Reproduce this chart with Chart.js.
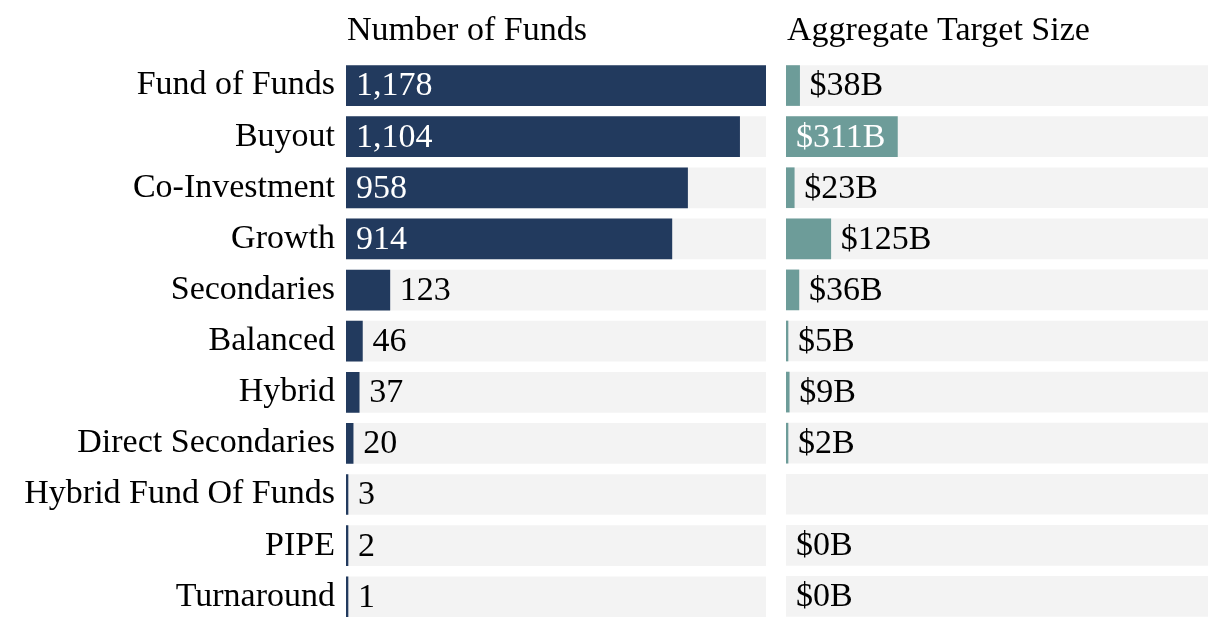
<!DOCTYPE html>
<html>
<head>
<meta charset="utf-8">
<script src="https://cdn.jsdelivr.net/npm/chart.js@4"></script>
<style>
  body { margin: 0; background: #fff; overflow: hidden; }
  #wrap { position: relative; width: 1220px; height: 630px; overflow: hidden; }
  canvas { position: absolute; top: 0; }
</style>
</head>
<body>
<div id="wrap">
  <!-- 11px taller: the category axis adds its tick padding below the last row -->
  <canvas id="fundsChart" width="776" height="641" style="left:0"></canvas>
  <canvas id="sizeChart" width="444" height="630" style="left:776px"></canvas>
</div>
<script>
const categories = [
    'Fund of Funds', 'Buyout', 'Co-Investment', 'Growth', 'Secondaries', 'Balanced',
    'Hybrid', 'Direct Secondaries', 'Hybrid Fund Of Funds', 'PIPE', 'Turnaround'
];
const fundCounts = [1178, 1104, 958, 914, 123, 46, 37, 20, 3, 2, 1];
// billions, null = no data
const targetSizes = [38, 311, 23, 125, 36, 5, 9, 2, null, 0, 0];
const scaleMax = 1178;

const FONT = '"Liberation Serif", "Times New Roman", serif';
const FONT_SIZE = 34;
const NAVY = '#223a5e';
const TEAL = '#6d9c99';
const TRACK = '#f3f3f3';

const fmtCount = v => v.toLocaleString('en-US');
const fmtSize = v => `$${v}B`;

// title above the plot + value labels next to / inside the bars
const makeLabelPlugin = (title, values, fmt, minLen) => ({
    id: 'barLabels',
    afterDraw: (chart) => {
        const ctx = chart.ctx;
        const xs = chart.scales.x;
        const ys = chart.scales.y;
        ctx.save();
        ctx.font = `${FONT_SIZE}px ${FONT}`;
        ctx.textBaseline = 'alphabetic';
        ctx.fillStyle = '#000';
        ctx.textAlign = 'left';
        ctx.fillText(title, chart.chartArea.left + 1, 40);

        ctx.textBaseline = 'middle';
        values.forEach((v, i) => {
            if (v === null) return;
            const text = fmt(v);
            const x0 = xs.getPixelForValue(0);
            let x1 = xs.getPixelForValue(v);
            if (v > 0 && x1 - x0 < minLen) x1 = x0 + minLen;
            const y = ys.getPixelForValue(i) + 1;
            const w = ctx.measureText(text).width;
            if (x1 - x0 > w + 20) {
                ctx.fillStyle = '#fff';
                ctx.fillText(text, x0 + 10, y);
            } else {
                ctx.fillStyle = '#000';
                ctx.fillText(text, Math.max(x1, x0) + 10, y);
            }
        });
        ctx.restore();
    }
});

const makeChart = (el, values, color, title, fmt, showCats, padding) => {
    return new Chart(el, {
        type: 'bar',
        data: {
            labels: categories,
            datasets: [
                {
                    data: values.map(v => (v === 0 ? null : v)),
                    backgroundColor: color,
                    barThickness: 40,
                    minBarLength: 2,
                    grouped: false,
                    order: 1
                },
                {
                    data: categories.map(() => scaleMax),
                    backgroundColor: TRACK,
                    barThickness: 40,
                    grouped: false,
                    order: 2
                }
            ]
        },
        options: {
            indexAxis: 'y',
            responsive: false,
            animation: false,
            events: [],
            layout: { padding: padding },
            plugins: {
                legend: { display: false },
                tooltip: { enabled: false }
            },
            scales: {
                x: {
                    display: false,
                    min: 0,
                    max: scaleMax
                },
                y: {
                    display: showCats,
                    grid: { display: false, drawTicks: false },
                    border: { display: false },
                    ticks: {
                        color: '#000',
                        padding: 11,
                        font: { family: FONT, size: FONT_SIZE, lineHeight: 0.45 }
                    },
                    afterFit: (s) => { if (showCats) s.width = 346; }
                }
            }
        },
        plugins: [makeLabelPlugin(title, values, fmt, 2)]
    });
};

makeChart(document.getElementById('fundsChart'), fundCounts, NAVY,
    'Number of Funds', fmtCount, true, { top: 60, bottom: 8, left: 0, right: 10 });
makeChart(document.getElementById('sizeChart'), targetSizes, TEAL,
    'Aggregate Target Size', fmtSize, false, { top: 60, bottom: 8, left: 10, right: 12 });
</script>
</body>
</html>
